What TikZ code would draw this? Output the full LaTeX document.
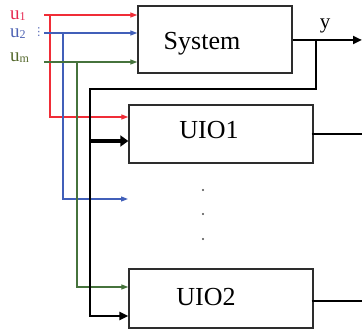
\documentclass[tikz,border=0pt]{standalone}
\usepackage{fontspec}
\setmainfont{Liberation Serif}
\newfontfamily\symfont{DejaVu Sans}
\usetikzlibrary{arrows.meta}
\definecolor{ured}{RGB}{240,45,55}
\definecolor{ublue}{RGB}{65,95,185}
\definecolor{ugreen}{RGB}{70,115,60}
\definecolor{lred}{RGB}{230,40,80}
\definecolor{lblue}{RGB}{80,100,180}
\definecolor{lgreen}{RGB}{85,105,45}
\definecolor{boxc}{RGB}{45,45,45}
\newcommand{\lsub}[1]{\raisebox{-1pt}{\fontsize{12}{12}\selectfont #1}}
\begin{document}
\begin{tikzpicture}[x=1pt,y=-1pt,
  blk/.style={draw=boxc, line width=1.4pt, minimum width=184pt, minimum height=58pt, inner sep=0pt},
  txt/.style={font=\fontsize{26}{28}\selectfont, anchor=base, inner sep=0pt},
  lbl/.style={font=\fontsize{19}{21}\selectfont, anchor=base west, inner sep=0pt},
  sig/.style={line width=1.2pt, -{Triangle[length=7pt,width=5pt]}},
  thk/.style={line width=2.6pt},
  thkarr/.style={line width=2.6pt, -{Triangle[length=9pt,width=8pt]}},
  fatarr/.style={line width=4.2pt, -{Triangle[length=8pt,width=11pt]}},
  dotc/.style={circle, fill=black!70, inner sep=0pt, minimum size=2.4pt}]
\useasboundingbox (0,0) rectangle (362,329);
% boxes
\node[blk, minimum width=154pt, minimum height=67pt] (sys) at (215,39.5) {};
\node[blk] (uio1) at (221,134) {};
\node[blk, minimum height=59pt] (uio2) at (221,298.5) {};
\node[txt] (systxt) at (202,50) {System};
\node[txt] (uio1txt) at (209,139) {UIO1};
\node[txt] (uio2txt) at (206,305) {UIO2};
% labels
\node[lbl, text=lred] (lu1) at (10,20) {u\lsub{1}};
\node[lbl, text=lblue] (lu2) at (10,38) {u\lsub{2}};
\node[font=\symfont\fontsize{11}{11}\selectfont, text=lblue, inner sep=0pt, anchor=base] (lvd) at (39,36) {⋮};
\node[lbl, text=lgreen] (lum) at (10,62) {u\lsub{m}};
\node[font=\fontsize{21}{23}\selectfont, anchor=base, inner sep=0pt] (ylbl) at (325,29) {y};
% dots
\node[dotc] (d1) at (203,190) {};
\node[dotc] (d2) at (203,214) {};
\node[dotc] (d3) at (203,239) {};
% coordinates
\coordinate (r0) at (44,15);
\coordinate (rj) at (50,15);
\coordinate (rk) at (50,117);
\coordinate (b0) at (44,33);
\coordinate (bj) at (63,33);
\coordinate (bk) at (63,199);
\coordinate (be) at (128,199);
\coordinate (g0) at (44,62);
\coordinate (gj) at (77,62);
\coordinate (gk) at (77,287);
\coordinate (yout) at (362,40);
\coordinate (fb0) at (316,40);
\coordinate (fb1) at (316,89);
\coordinate (fb2) at (90,89);
\coordinate (fb3) at (90,316);
\coordinate (fbm) at (90,141);
\coordinate (o1) at (362,134);
\coordinate (o2) at (362,301);
% red
\draw[sig, ured] (r0) -- (r0 -| sys.west);
\draw[sig, ured] (rj) -- (rk) -- (rk -| uio1.west);
% blue
\draw[sig, ublue] (b0) -- (b0 -| sys.west);
\draw[sig, ublue] (bj) -- (bk) -- (be);
% green
\draw[sig, ugreen] (g0) -- (g0 -| sys.west);
\draw[sig, ugreen] (gj) -- (gk) -- (gk -| uio2.west);
% output and feedback
\draw[thkarr] (yout -| sys.east) -- (yout);
\draw[thkarr] (fb0) -- (fb1) -- (fb2) -- (fb3) -- (fb3 -| uio2.west);
\draw[fatarr] (fbm) -- (fbm -| uio1.west);
% UIO outputs
\draw[thk] ([xshift=-2pt]o1 -| uio1.east) -- (o1);
\draw[thk] ([xshift=-2pt]o2 -| uio2.east) -- (o2);
\end{tikzpicture}
\end{document}
